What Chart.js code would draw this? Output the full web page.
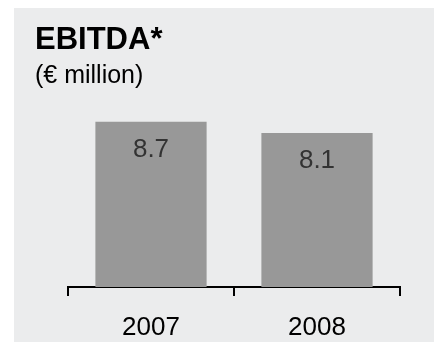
<!DOCTYPE html>
<html>
<head>
<meta charset="utf-8">
<script src="https://cdn.jsdelivr.net/npm/chart.js@4"></script>
<style>
  html, body { margin: 0; padding: 0; background: #ffffff; }
  #box { position: absolute; left: 14px; top: 8px; width: 420px; height: 334px; background: #ebeced; }
  canvas { display: block; }
</style>
</head>
<body>
<div id="box"><canvas id="c" width="420" height="334"></canvas></div>
<script>
const titleText = "EBITDA*";
const subtitleText = "(€ million)";
const categories = ["2007", "2008"];
const ebitdaValues = [8.7, 8.1];
const valueLabels = ["8.7", "8.1"];

const FONT = "'Liberation Sans', Arial, Helvetica, sans-serif";

const headerPlugin = {
  id: 'header',
  afterDraw(chart) {
    const ctx = chart.ctx;
    ctx.save();
    ctx.textAlign = 'left';
    ctx.textBaseline = 'alphabetic';
    ctx.fillStyle = '#000000';
    ctx.font = "bold 31px " + FONT;
    ctx.fillText(titleText, 21, 41);
    ctx.font = "25px " + FONT;
    ctx.fillText(subtitleText, 21, 75);
    ctx.restore();
  }
};

const valueLabelPlugin = {
  id: 'valueLabels',
  afterDatasetsDraw(chart) {
    const ctx = chart.ctx;
    const meta = chart.getDatasetMeta(0);
    ctx.save();
    ctx.font = "26px " + FONT;
    ctx.fillStyle = '#333333';
    ctx.textAlign = 'center';
    ctx.textBaseline = 'middle';
    meta.data.forEach((bar, i) => {
      ctx.fillText(valueLabels[i], bar.x, bar.y + 28);
    });
    ctx.restore();
  }
};

new Chart(document.getElementById('c'), {
  type: 'bar',
  data: {
    labels: categories,
    datasets: [{
      data: ebitdaValues,
      backgroundColor: '#989898',
      borderWidth: 0,
      categoryPercentage: 1.0,
      barPercentage: 0.67
    }]
  },
  options: {
    responsive: false,
    animation: false,
    layout: { padding: { left: 54, right: 34, top: 89, bottom: 0 } },
    plugins: {
      legend: { display: false },
      tooltip: { enabled: false },
      title: { display: false }
    },
    scales: {
      x: {
        offset: true,
        afterFit(scale) { scale.height = 55; },
        grid: {
          offset: true,
          drawOnChartArea: false,
          drawTicks: true,
          tickLength: 9,
          color: '#000000',
          lineWidth: 2
        },
        border: { display: true, color: '#000000', width: 2 },
        ticks: {
          color: '#000000',
          font: { family: FONT, size: 26 },
          padding: 16
        }
      },
      y: {
        display: false,
        min: 0,
        max: 10
      }
    }
  },
  plugins: [headerPlugin, valueLabelPlugin]
});
</script>
</body>
</html>
